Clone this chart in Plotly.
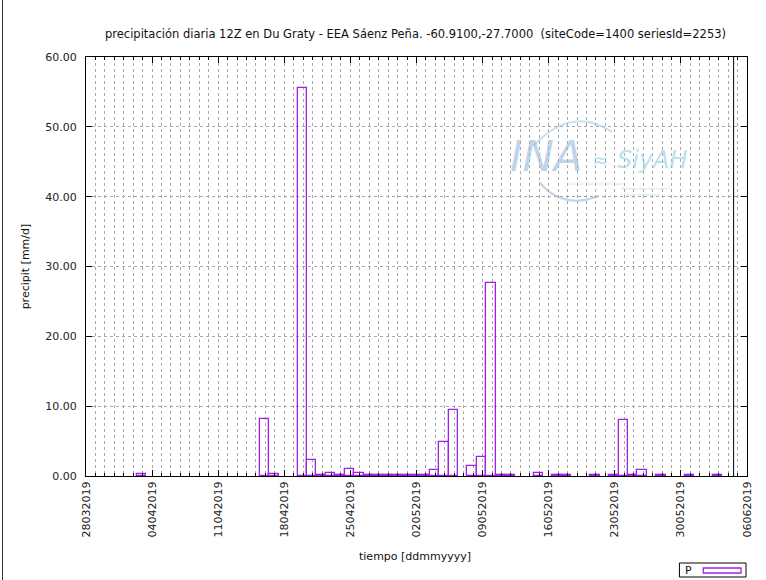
import plotly.graph_objects as go
import pandas as pd

# ---------------- data ----------------
dates = [
    "2019-04-02", "2019-04-15", "2019-04-16", "2019-04-19", "2019-04-20",
    "2019-04-21", "2019-04-22", "2019-04-23", "2019-04-24", "2019-04-25",
    "2019-04-26", "2019-04-27", "2019-04-28", "2019-04-29", "2019-04-30",
    "2019-05-01", "2019-05-02", "2019-05-03", "2019-05-04", "2019-05-05",
    "2019-05-07", "2019-05-08", "2019-05-09", "2019-05-10", "2019-05-11",
    "2019-05-14", "2019-05-16", "2019-05-17", "2019-05-20", "2019-05-22",
    "2019-05-23", "2019-05-24", "2019-05-25", "2019-05-27", "2019-05-30",
    "2019-06-02",
]
precip = [
    0.3, 8.2, 0.3, 55.6, 2.3,
    0.2, 0.5, 0.2, 1.0, 0.5,
    0.2, 0.2, 0.2, 0.2, 0.2,
    0.2, 0.2, 0.8, 4.8, 9.5,
    1.5, 2.7, 27.7, 0.2, 0.2,
    0.5, 0.2, 0.2, 0.2, 0.2,
    8.0, 0.2, 0.8, 0.2, 0.2,
    0.2,
]
series_name = "P"
x_start = "2019-03-28"
x_end = "2019-06-06"
now_marker = "2019-06-04 14:00"
title_text = ("precipitación diaria 12Z en Du Graty - EEA Sáenz Peña. "
              "-60.9100,-27.7000  (siteCode=1400 seriesId=2253)")
x_title = "tiempo [ddmmyyyy]"
y_title = "precipit [mm/d]"

# ---------------- layout geometry ----------------
W, H = 766, 580
L, R, T, B = 86, 751, 57, 476  # plot area in pixels
DAY_MS = 86400000


def px(xp):
    return (xp - L) / (R - L)


def py(yp):
    return (B - yp) / (B - T)


FONT = "DejaVu Sans"
VIOLET = "#a020e8"

xs = pd.to_datetime(dates) + pd.Timedelta(hours=21.6)

fig = go.Figure()
fig.add_trace(go.Bar(
    x=xs, y=precip, width=DAY_MS, name=series_name,
    marker=dict(color="rgba(0,0,0,0)", line=dict(color=VIOLET, width=1.3)),
    showlegend=False,
))

grid_col = "#a8a8a8"
fig.update_layout(
    width=W, height=H,
    margin=dict(l=L, r=W - R, t=T, b=H - B, pad=0),
    paper_bgcolor="white", plot_bgcolor="white",
    font=dict(family=FONT, size=11, color="#222222"),
    bargap=0,
    xaxis=dict(
        type="date", range=[x_start, x_end],
        tick0=x_start, dtick=7 * DAY_MS, tickformat="%d%m%Y",
        tickangle=-90, ticks="inside", ticklen=6, tickcolor="black",
        showline=True, linecolor="black", linewidth=1, mirror="ticks",
        showgrid=True, gridcolor=grid_col, griddash="dot", gridwidth=1,
        minor=dict(tick0=x_start, dtick=DAY_MS, ticks="inside", ticklen=3,
                   tickcolor="black", showgrid=True, gridcolor=grid_col,
                   griddash="dot", gridwidth=1),
        tickfont=dict(family=FONT, size=11, color="#222222"),
        zeroline=False, fixedrange=True,
    ),
    yaxis=dict(
        range=[0, 60], tick0=0, dtick=10, tickformat=".2f",
        ticks="inside", ticklen=6, tickcolor="black",
        showline=True, linecolor="black", linewidth=1, mirror="ticks",
        showgrid=True, gridcolor=grid_col, griddash="dot", gridwidth=1,
        zeroline=False, ticklabelstandoff=6,
        tickfont=dict(family=FONT, size=11, color="#222222"),
    ),
)

logo_blue = "rgba(150,185,215,0.6)"
logo_cyan = "rgba(140,205,225,0.6)"
annotations = [
    dict(text=title_text, x=px(417), y=py(34), xref="paper", yref="paper",
         showarrow=False, xanchor="center", yanchor="middle",
         font=dict(family=FONT, size=11.5, color="#111111")),
    dict(text=x_title, x=px(417), y=py(556), xref="paper", yref="paper",
         showarrow=False, xanchor="center", yanchor="middle",
         font=dict(family=FONT, size=11, color="#111111")),
    dict(text=y_title, x=px(25), y=py(266), xref="paper", yref="paper",
         showarrow=False, xanchor="center", yanchor="middle", textangle=-90,
         font=dict(family=FONT, size=11, color="#111111")),
    # legend label
    dict(text=series_name, x=px(687), y=py(570), xref="paper", yref="paper",
         showarrow=False, xanchor="left", yanchor="middle",
         font=dict(family=FONT, size=11, color="#111111")),
    # watermark logo (INA SiyAH)
    dict(text="<i>INA</i>", x=px(549), y=py(156), xref="paper", yref="paper",
         showarrow=False, xanchor="center", yanchor="middle",
         font=dict(family="DejaVu Sans", size=42, color=logo_blue)),
    dict(text="<i>SiyAH</i>", x=px(656), y=py(160), xref="paper", yref="paper",
         showarrow=False, xanchor="center", yanchor="middle",
         font=dict(family="DejaVu Sans", size=24, color=logo_cyan)),
    dict(text="≈", x=px(604), y=py(160), xref="paper", yref="paper",
         showarrow=False, xanchor="center", yanchor="middle",
         font=dict(family="DejaVu Sans", size=20, color=logo_cyan)),
    dict(text="<i>Instituto Nacional del Agua</i>", x=px(569), y=py(183),
         xref="paper", yref="paper", showarrow=False, xanchor="left",
         yanchor="middle",
         font=dict(family="DejaVu Sans", size=4, color=logo_blue)),
    dict(text="<i>Sistema de Información</i>", x=px(622), y=py(188),
         xref="paper", yref="paper", showarrow=False, xanchor="left",
         yanchor="middle",
         font=dict(family="DejaVu Sans", size=4, color=logo_cyan)),
    dict(text="<i>y Alerta Hidrológico</i>", x=px(620), y=py(195),
         xref="paper", yref="paper", showarrow=False, xanchor="left",
         yanchor="middle",
         font=dict(family="DejaVu Sans", size=4, color=logo_cyan)),
]
fig.update_layout(annotations=annotations)

shapes = [
    # vertical "now" marker
    dict(type="line", xref="x", yref="y domain", x0=now_marker, x1=now_marker,
         y0=0, y1=1, line=dict(color="black", width=1)),
    # legend box
    dict(type="rect", xref="paper", yref="paper",
         x0=px(683), x1=px(750), y0=py(577), y1=py(563),
         line=dict(color="black", width=1), fillcolor="white"),
    dict(type="rect", xref="paper", yref="paper",
         x0=px(707), x1=px(745), y0=py(573), y1=py(568),
         line=dict(color=VIOLET, width=1.3), fillcolor="rgba(0,0,0,0)"),
    # outer left frame line
    dict(type="line", xref="paper", yref="paper",
         x0=px(2), x1=px(2), y0=py(580), y1=py(0),
         line=dict(color="#333333", width=1)),
    # logo arcs
    dict(type="path", xref="paper", yref="paper", layer="below",
         path=(f"M {px(536)},{py(146)} Q {px(575)},{py(105)} {px(615)},{py(132)}"),
         line=dict(color="rgba(160,205,230,0.6)", width=2)),
    dict(type="path", xref="paper", yref="paper", layer="below",
         path=(f"M {px(542)},{py(182)} Q {px(565)},{py(210)} {px(602)},{py(196)}"),
         line=dict(color=logo_blue, width=2)),
]
fig.update_layout(shapes=shapes)

fig.write_html(
    "out.html",
    config={"displayModeBar": False},
    post_script="document.body.style.margin='0px';document.body.style.overflow='hidden';",
)
